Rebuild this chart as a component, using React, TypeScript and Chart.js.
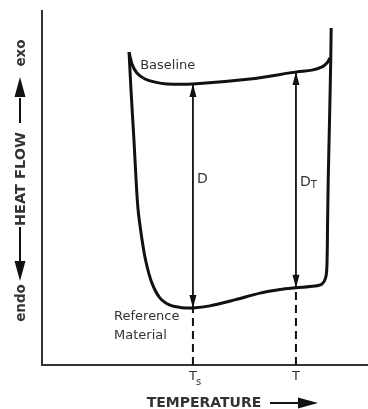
import React, { useEffect, useRef } from "react";
import { Chart, registerables } from "chart.js";

Chart.register(...registerables);

// Baseline (empty pan) curve: temperature vs heat flow
const baselineTemp = [26.7, 27.6, 29.1, 31.6, 34.7, 38.3, 46.3, 63.8, 78.2, 82.8, 85.9, 87.4, 88.3];
const baselineFlow = [88.4, 85.0, 82.5, 80.8, 79.9, 79.4, 79.4, 80.8, 82.8, 83.3, 84.2, 85.3, 86.7];

// Reference material curve
const sampleTemp = [26.7, 27.3, 28.2, 29.4, 30.7, 31.9, 33.7, 36.2, 39.3, 42.9, 46.3, 51.5, 59.2, 66.9, 73.0, 77.9, 83.7, 85.9, 87.0, 87.4, 87.6, 87.8, 88.1, 88.4, 88.6, 88.7];
const sampleFlow = [88.4, 77.7, 63.6, 44.6, 35.3, 29.1, 23.2, 18.9, 16.9, 16.2, 16.1, 16.7, 18.4, 20.3, 21.3, 21.8, 22.3, 22.9, 24.6, 28.0, 40.0, 52.3, 65.0, 78.0, 88.0, 95.2];

// Marked temperatures and the deflection between curves
const markerTemp = [46.3, 77.9];
const markerTick = ["T", "T"];
const markerTickSub = ["s", ""];
const markerTop = [79.4, 82.8];
const markerBottom = [16.1, 21.8];
const markerLabel = ["D", "D"];
const markerLabelSub = ["", "T"];
const markerLabelFlow = [52.3, 51.7];

const xTitle = "TEMPERATURE";
const yTitleParts = ["endo", "HEAT FLOW", "exo"];
const baselineLabel = "Baseline";
const referenceLabel = ["Reference", "Material"];

const FONT = "'DejaVu Sans', Verdana, sans-serif";
const INK = "#111";
const TEXT = "#333";

function headV(ctx: CanvasRenderingContext2D, x: number, tipY: number, dir: number, w: number, len: number) {
  ctx.beginPath();
  ctx.moveTo(x, tipY);
  ctx.lineTo(x - w / 2, tipY - dir * len);
  ctx.lineTo(x + w / 2, tipY - dir * len);
  ctx.closePath();
  ctx.fill();
}

const annotPlugin = {
  id: "annot",
  afterDatasetsDraw(chart: any) {
    const { ctx, chartArea } = chart;
    const xs = chart.scales.x;
    const ys = chart.scales.y;
    const X = (v: number) => xs.getPixelForValue(v);
    const Y = (v: number) => ys.getPixelForValue(v);
    ctx.save();

    // arrowheads on deflection arrows
    ctx.fillStyle = INK;
    markerTemp.forEach((t, i) => {
      headV(ctx, X(t), Y(markerTop[i]), -1, 7, 13);
      headV(ctx, X(t), Y(markerBottom[i]), 1, 7, 13);
    });

    // curve labels
    ctx.fillStyle = TEXT;
    ctx.textAlign = "left";
    ctx.textBaseline = "middle";
    ctx.font = `13px ${FONT}`;
    ctx.fillText(baselineLabel, X(30.1), Y(84.7));
    ctx.fillText(referenceLabel[0], X(22.1), Y(13.6));
    ctx.fillText(referenceLabel[1], X(22.1), Y(8.2));

    // D labels
    markerTemp.forEach((t, i) => {
      ctx.font = `14px ${FONT}`;
      const lx = X(t) + 4;
      const ly = Y(markerLabelFlow[i]);
      ctx.fillText(markerLabel[i], lx, ly);
      if (markerLabelSub[i]) {
        const w = ctx.measureText(markerLabel[i]).width;
        ctx.font = `10px ${FONT}`;
        ctx.fillText(markerLabelSub[i], lx + w, ly + 3);
      }
    });

    // tick labels below x axis
    markerTemp.forEach((t, i) => {
      ctx.font = `13px ${FONT}`;
      const ty = chartArea.bottom + 12;
      const mainW = ctx.measureText(markerTick[i]).width;
      const start = X(t) - mainW / 2;
      ctx.fillText(markerTick[i], start, ty);
      if (markerTickSub[i]) {
        ctx.font = `10px ${FONT}`;
        ctx.fillText(markerTickSub[i], start + mainW - 1, ty + 5);
      }
    });

    // x-axis title with arrow
    ctx.font = `bold 14px ${FONT}`;
    ctx.textAlign = "center";
    ctx.fillStyle = TEXT;
    const xty = chartArea.bottom + 38;
    ctx.fillText(xTitle, 204, xty);
    ctx.strokeStyle = INK;
    ctx.fillStyle = INK;
    ctx.lineWidth = 2;
    ctx.beginPath();
    ctx.moveTo(270, xty);
    ctx.lineTo(300, xty);
    ctx.stroke();
    ctx.beginPath();
    ctx.moveTo(318, xty);
    ctx.lineTo(298, xty - 5.5);
    ctx.lineTo(298, xty + 5.5);
    ctx.closePath();
    ctx.fill();

    // y-axis title arrows (screen coords)
    const ax = 20;
    ctx.beginPath();
    ctx.moveTo(ax, 227);
    ctx.lineTo(ax, 263);
    ctx.moveTo(ax, 98);
    ctx.lineTo(ax, 123);
    ctx.stroke();
    headV(ctx, ax, 281, 1, 11, 20);
    headV(ctx, ax, 77, -1, 11, 20);

    // y-axis title texts (rotated)
    ctx.fillStyle = TEXT;
    ctx.translate(ax + 1, 0);
    ctx.rotate(-Math.PI / 2);
    ctx.textAlign = "center";
    ctx.textBaseline = "middle";
    ctx.font = `bold 13.5px ${FONT}`;
    ctx.fillText(yTitleParts[0], -303, 0);
    ctx.font = `bold 14.5px ${FONT}`;
    ctx.fillText(yTitleParts[1], -179, 0);
    ctx.font = `bold 13.5px ${FONT}`;
    ctx.fillText(yTitleParts[2], -53, 0);

    ctx.restore();
  },
};

export default function App() {
  const ref = useRef<HTMLCanvasElement | null>(null);

  useEffect(() => {
    if (!ref.current) return;
    const curve = (xs: number[], ys: number[]) => xs.map((x, i) => ({ x, y: ys[i] }));
    const datasets: any[] = [
      {
        label: "Baseline",
        data: curve(baselineTemp, baselineFlow),
        borderColor: INK,
        borderWidth: 3,
        pointRadius: 0,
        tension: 0.3,
        fill: false,
      },
      {
        label: "Reference Material",
        data: curve(sampleTemp, sampleFlow),
        borderColor: INK,
        borderWidth: 3,
        pointRadius: 0,
        tension: 0.3,
        fill: false,
      },
    ];
    markerTemp.forEach((t, i) => {
      datasets.push({
        label: "D" + i,
        data: [
          { x: t, y: markerBottom[i] },
          { x: t, y: markerTop[i] },
        ],
        borderColor: INK,
        borderWidth: 1.8,
        pointRadius: 0,
        tension: 0,
      });
      datasets.push({
        label: "T" + i,
        data: [
          { x: t, y: 0 },
          { x: t, y: markerBottom[i] },
        ],
        borderColor: INK,
        borderWidth: 2,
        borderDash: [8, 5],
        pointRadius: 0,
        tension: 0,
      });
    });

    const chart = new Chart(ref.current, {
      type: "line",
      data: { datasets },
      options: {
        responsive: false,
        animation: false,
        devicePixelRatio: 1,
        layout: { padding: { left: 42, top: 11, right: 0, bottom: 44 } },
        plugins: { legend: { display: false }, tooltip: { enabled: false } },
        scales: {
          x: {
            type: "linear",
            min: 0,
            max: 100,
            grid: { display: false, drawTicks: false },
            ticks: { display: false },
            border: { display: true, color: "#333", width: 2 },
          },
          y: {
            type: "linear",
            min: 0,
            max: 100,
            grid: { display: false, drawTicks: false },
            ticks: { display: false },
            border: { display: true, color: "#333", width: 2 },
          },
        },
      },
      plugins: [annotPlugin],
    });
    return () => chart.destroy();
  }, []);

  return (
    <div style={{ position: "fixed", left: 0, top: 0, width: 368, height: 409, background: "#fff" }}>
      <canvas ref={ref} width={368} height={409} style={{ display: "block" }} />
    </div>
  );
}
